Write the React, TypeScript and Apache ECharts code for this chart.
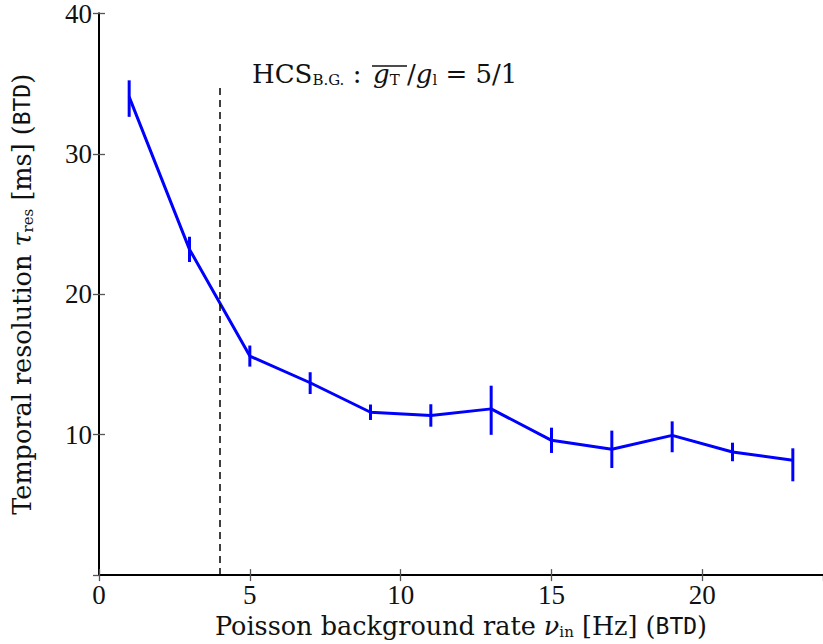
import React, { useEffect, useRef } from "react";
import * as echarts from "echarts";

const rates = [1, 3, 5, 7, 9, 11, 13, 15, 17, 19, 21, 23];
const tauRes = [34.06, 23.2, 15.6, 13.7, 11.6, 11.37, 11.84, 9.6, 8.96, 9.95, 8.77, 8.18];
const errLow = [1.42, 0.9, 0.75, 0.8, 0.55, 0.8, 1.85, 0.9, 1.33, 1.2, 0.66, 1.5];
const errHigh = [1.18, 0.9, 0.75, 0.75, 0.55, 0.8, 1.65, 0.9, 1.33, 1.0, 0.66, 0.85];
const xTicks = [0, 5, 10, 15, 20];
const yTicks = [10, 20, 30, 40];
const threshold = { x: 4, yTop: 35 };

const SERIF = "'Liberation Serif', 'DejaVu Serif', serif";
const WIDE_SERIF = "'DejaVu Serif', 'Liberation Serif', serif";
const MONO = "'DejaVu Sans Mono', 'Liberation Mono', monospace";
const TXT = "#111";
const NAME_SIZE = 25.5;

export default function App() {
  const ref = useRef<HTMLDivElement>(null);
  useEffect(() => {
    if (!ref.current) return;
    const chart = echarts.init(ref.current, undefined, { renderer: "svg" });
    const lineData = rates.map((x, i) => [x, tauRes[i]]);
    const errData = rates.map((x, i) => [x, tauRes[i] - errLow[i], tauRes[i] + errHigh[i]]);
    const richName = {
      it: { fontFamily: WIDE_SERIF, fontSize: NAME_SIZE, fontStyle: "italic", color: TXT },
      sub: { fontFamily: WIDE_SERIF, fontSize: 15, color: TXT, verticalAlign: "bottom", lineHeight: 9 },
      mono: { fontFamily: MONO, fontSize: 23, color: TXT },
    };
    const annRich = {
      it: { fontFamily: WIDE_SERIF, fontSize: 26, fontStyle: "italic", fill: TXT },
      sub: { fontFamily: WIDE_SERIF, fontSize: 15, fill: TXT, verticalAlign: "bottom", lineHeight: 12 },
    };
    const annStyle = (text: string) => ({
      text,
      fontFamily: WIDE_SERIF,
      fontSize: 26,
      fill: TXT,
      rich: annRich,
    });
    const axisCommon = {
      axisLine: { show: true, lineStyle: { color: "#000", width: 2 } },
      axisTick: { show: true, inside: true, length: 6, lineStyle: { color: "#555", width: 1.3 } },
      splitLine: { show: false },
    };
    chart.setOption({
      animation: false,
      backgroundColor: "#fff",
      grid: { left: 99, top: 13, width: 728, height: 564 },
      xAxis: [
        {
          type: "value",
          min: 0,
          max: 24,
          interval: 5,
          position: "bottom",
          ...axisCommon,
          axisLabel: {
            show: true,
            margin: 6,
            fontFamily: SERIF,
            fontSize: 27,
            color: TXT,
            showMaxLabel: false,
            formatter: (v: number) => (xTicks.includes(v) ? String(v) : ""),
          },
          name: "Poisson background rate {it|ν}{sub|in} [Hz] ({mono|BTD})",
          nameLocation: "middle",
          nameGap: 33,
          nameTextStyle: { fontFamily: WIDE_SERIF, fontSize: NAME_SIZE, color: TXT, rich: richName },
        },
        {
          type: "value",
          min: 0,
          max: 24,
          interval: 5,
          position: "top",
          ...axisCommon,
          axisLabel: { show: false },
        },
      ],
      yAxis: [
        {
          type: "value",
          min: 0,
          max: 40,
          interval: 10,
          position: "left",
          ...axisCommon,
          axisLabel: {
            show: true,
            margin: 7,
            fontFamily: SERIF,
            fontSize: 27,
            color: TXT,
            showMinLabel: false,
            formatter: (v: number) => (yTicks.includes(v) ? String(v) : ""),
          },
          name: "Temporal resolution {it|τ}{sub|res} [ms] ({mono|BTD})",
          nameLocation: "middle",
          nameGap: 64,
          nameTextStyle: { fontFamily: WIDE_SERIF, fontSize: NAME_SIZE, color: TXT, rich: richName },
        },
        {
          type: "value",
          min: 0,
          max: 40,
          interval: 10,
          position: "right",
          ...axisCommon,
          axisLabel: { show: false },
        },
      ],
      series: [
        {
          type: "line",
          data: lineData,
          symbol: "none",
          lineStyle: { color: "#0000ff", width: 3 },
          z: 3,
          markLine: {
            silent: true,
            symbol: "none",
            label: { show: false },
            lineStyle: { color: "#000", width: 1.5, type: [7, 5] },
            data: [[{ coord: [threshold.x, 0] }, { coord: [threshold.x, threshold.yTop] }]],
          },
        },
        {
          type: "custom",
          data: errData,
          z: 4,
          renderItem: (params: any, api: any) => {
            const x = api.value(0);
            const p1 = api.coord([x, api.value(1)]);
            const p2 = api.coord([x, api.value(2)]);
            return {
              type: "line",
              shape: { x1: p1[0], y1: p1[1], x2: p2[0], y2: p2[1] },
              style: { stroke: "#0000ff", lineWidth: 3 },
            };
          },
        },
      ],
      graphic: [
        { type: "text", left: 252, top: 61, style: annStyle("HCS{sub|B.G.} :") },
        { type: "text", left: 373, top: 61, style: annStyle("{it|g}{sub|T}") },
        { type: "text", left: 407, top: 61, style: annStyle("/{it|g}{sub|l} = 5/1") },
        {
          type: "line",
          shape: { x1: 372, y1: 66, x2: 407, y2: 66 },
          style: { stroke: "#111", lineWidth: 1.5 },
        },
      ],
    });
    return () => chart.dispose();
  }, []);
  return <div ref={ref} style={{ width: 823, height: 644, position: "absolute", left: 0, top: 0 }} />;
}
